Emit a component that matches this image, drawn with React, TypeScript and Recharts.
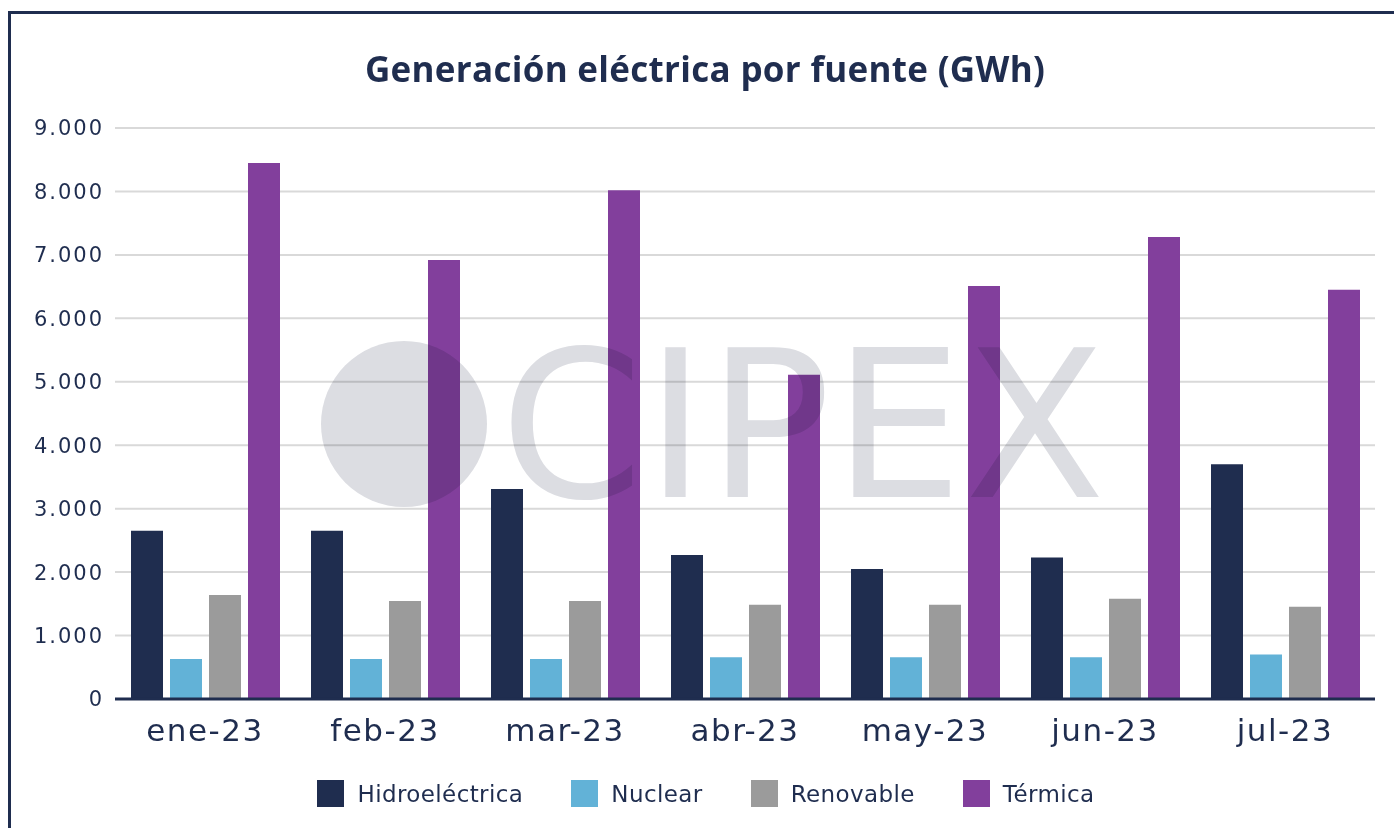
import React from 'react';
import { BarChart, Bar, XAxis, YAxis, CartesianGrid, Legend } from 'recharts';

const months = ['ene-23', 'feb-23', 'mar-23', 'abr-23', 'may-23', 'jun-23', 'jul-23'];
const hidro = [2650, 2650, 3310, 2270, 2050, 2230, 3700];
const nuclear = [630, 630, 630, 660, 660, 660, 700];
const renovable = [1640, 1545, 1545, 1485, 1485, 1580, 1455];
const termica = [8450, 6920, 8020, 5110, 6510, 7280, 6450];
const yTicks = [0, 1000, 2000, 3000, 4000, 5000, 6000, 7000, 8000, 9000];

const NAVY = '#1f2d4f';
const series = [
  { key: 'hidro', label: 'Hidroeléctrica', color: '#1f2d4f' },
  { key: 'nuclear', label: 'Nuclear', color: '#62b2d7' },
  { key: 'renovable', label: 'Renovable', color: '#9b9b9b' },
  { key: 'termica', label: 'Térmica', color: '#823f9c' },
];

const data = months.map((m, i) => ({
  mes: m,
  hidro: hidro[i],
  nuclear: nuclear[i],
  renovable: renovable[i],
  termica: termica[i],
}));

// 9000 -> "9.000"
const fmt = (v: number) => String(v).replace(/\B(?=(\d{3})+(?!\d))/g, '.');

const AXIS_FONT = '"DejaVu Sans", sans-serif';

const LegendContent = () => (
  <div style={{
    display: 'flex', justifyContent: 'center', alignItems: 'center', height: 69,
    paddingLeft: 18, boxSizing: 'border-box', fontFamily: AXIS_FONT, fontSize: 23, color: NAVY,
    letterSpacing: 0.4,
  }}>
    {series.map((s) => (
      <div key={s.key} style={{ display: 'flex', alignItems: 'center', margin: '0 24px' }}>
        <span style={{ width: 27, height: 27, background: s.color, display: 'inline-block', marginRight: 13 }} />
        <span>{s.label}</span>
      </div>
    ))}
  </div>
);

export default function App() {
  return (
    <div style={{ position: 'relative', width: 1394, height: 828, overflow: 'hidden', background: '#fff' }}>
      <style>{'body{margin:0}'}</style>
      {/* frame, runs off the right and bottom edges */}
      <div style={{
        position: 'absolute', left: 8, top: 11, width: 1500, height: 1000,
        border: `3px solid ${NAVY}`, boxSizing: 'border-box',
      }} />
      <div style={{
        position: 'absolute', left: 8, top: 51, width: 1394, textAlign: 'center',
        fontFamily: '"Open Sans", sans-serif', fontWeight: 700, fontSize: 35, lineHeight: '35px', color: NAVY,
        letterSpacing: 0.3,
      }}>
        Generación eléctrica por fuente (GWh)
      </div>
      <div style={{ position: 'absolute', left: 0, top: 0 }}>
        <BarChart
          width={1394}
          height={828}
          data={data}
          margin={{ top: 128, right: 19, left: 0, bottom: 0 }}
          barSize={32}
          barGap={7}
          barCategoryGap={15}
        >
          <CartesianGrid vertical={false} stroke="#d9d9d9" strokeWidth={2} />
          <XAxis
            dataKey="mes"
            height={60}
            tickLine={false}
            tickMargin={14}
            axisLine={{ stroke: NAVY, strokeWidth: 3 }}
            tick={{ fill: NAVY, fontSize: 31, fontFamily: AXIS_FONT, letterSpacing: 1.5 }}
          />
          <YAxis
            width={115}
            domain={[0, 9000]}
            ticks={yTicks}
            tickFormatter={fmt}
            axisLine={false}
            tickLine={false}
            tickMargin={5}
            tick={{ fill: NAVY, fontSize: 21, fontFamily: AXIS_FONT, letterSpacing: 2 }}
          />
          <Legend verticalAlign="bottom" height={69} content={<LegendContent />} wrapperStyle={{ left: 0, width: 1394 }} />
          {series.map((s) => (
            <Bar key={s.key} dataKey={s.key} name={s.label} fill={s.color} isAnimationActive={false} />
          ))}
        </BarChart>
      </div>
      {/* watermark */}
      <div style={{ position: 'absolute', left: 0, top: 0, width: 1394, height: 828, pointerEvents: 'none', mixBlendMode: 'multiply' }}>
        <div style={{
          position: 'absolute', left: 321, top: 341, width: 166, height: 166, borderRadius: '50%', background: '#dcdde2',
        }} />
        <div style={{
          position: 'absolute', left: 500, top: 324, fontFamily: AXIS_FONT, fontSize: 205, lineHeight: 1, color: '#dcdde2',
          letterSpacing: 2,
        }}>
          CIPEX
        </div>
      </div>
    </div>
  );
}
